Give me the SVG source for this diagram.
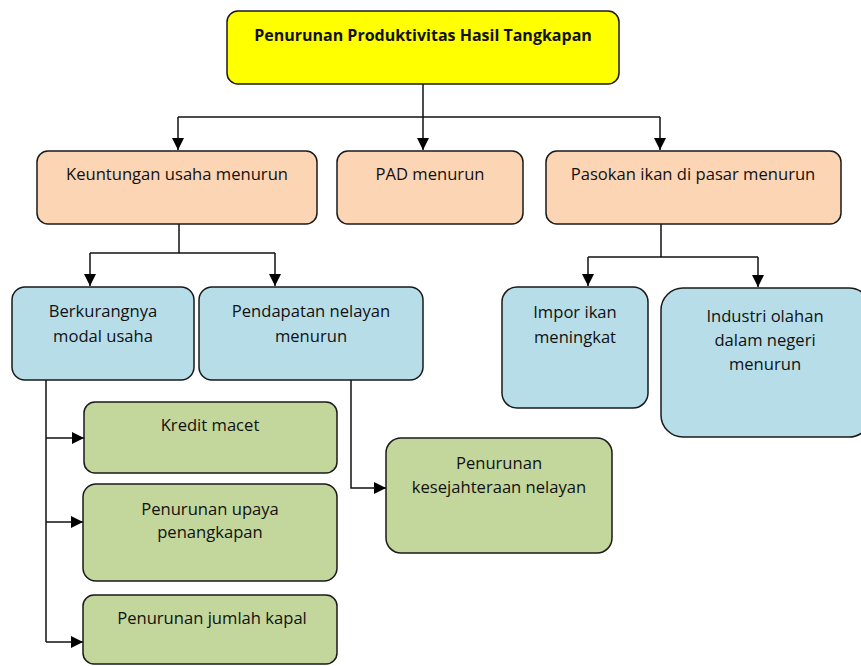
<svg xmlns="http://www.w3.org/2000/svg" width="861" height="666" viewBox="0 0 861 666">
<defs>
<marker id="ah" markerUnits="userSpaceOnUse" markerWidth="12" markerHeight="12" viewBox="0 0 10 10" refX="10" refY="5" orient="auto">
<path d="M0,0 L10,5 L0,10 z" fill="#000"/>
</marker>
<style>
.box{stroke:#1a1a1a;stroke-width:1.5}
.y{fill:#FFFF00}.o{fill:#FCD5B5}.b{fill:#B7DEE8}.g{fill:#C3D69B}
text{font-family:"Open Sans","Noto Sans","Liberation Sans",sans-serif;font-size:16.6px;fill:#111;text-anchor:middle}
.t{font-weight:bold;font-size:16px}
.c{fill:none;stroke:#111;stroke-width:1.5}
</style>
</defs>
<g id="connectors">
<path class="c" d="M423,84 V117"/>
<path class="c" d="M178,117 H660"/>
<path class="c" d="M178,117 V150" marker-end="url(#ah)"/>
<path class="c" d="M423,117 V150" marker-end="url(#ah)"/>
<path class="c" d="M660,117 V150" marker-end="url(#ah)"/>
<path class="c" d="M179,224 V253"/>
<path class="c" d="M90,253 H275"/>
<path class="c" d="M90,253 V286" marker-end="url(#ah)"/>
<path class="c" d="M275,253 V286" marker-end="url(#ah)"/>
<path class="c" d="M661,224 V257"/>
<path class="c" d="M588,257 H758"/>
<path class="c" d="M588,257 V286" marker-end="url(#ah)"/>
<path class="c" d="M758,257 V287" marker-end="url(#ah)"/>
<path class="c" d="M46,380 V642"/>
<path class="c" d="M46,438 H84" marker-end="url(#ah)"/>
<path class="c" d="M46,522 H83" marker-end="url(#ah)"/>
<path class="c" d="M46,642 H83" marker-end="url(#ah)"/>
<path class="c" d="M351,380 V488 H386" marker-end="url(#ah)"/>
</g>
<g id="n-top"><rect class="box y" x="227" y="11" width="392" height="73" rx="11"/><text class="t" x="423" y="41">Penurunan Produktivitas Hasil Tangkapan</text></g>
<g id="n-keuntungan"><rect class="box o" x="37" y="151" width="280" height="73" rx="11"/><text x="177" y="180">Keuntungan usaha menurun</text></g>
<g id="n-pad"><rect class="box o" x="337" y="151" width="186" height="73" rx="11"/><text x="430" y="180">PAD menurun</text></g>
<g id="n-pasokan"><rect class="box o" x="546" y="151" width="295" height="73" rx="11"/><text x="693" y="180">Pasokan ikan di pasar menurun</text></g>
<g id="n-berkurang"><rect class="box b" x="12" y="287" width="182" height="93" rx="13"/><text x="103" y="317">Berkurangnya</text><text x="103" y="342">modal usaha</text></g>
<g id="n-pendapatan"><rect class="box b" x="199" y="287" width="224" height="93" rx="13"/><text x="311" y="317">Pendapatan nelayan</text><text x="311" y="342">menurun</text></g>
<g id="n-impor"><rect class="box b" x="502" y="287" width="146" height="121" rx="15"/><text x="575" y="318">Impor ikan</text><text x="575" y="343">meningkat</text></g>
<g id="n-industri"><rect class="box b" x="661" y="288" width="210" height="149" rx="22"/><text x="765" y="322">Industri olahan</text><text x="765" y="346">dalam negeri</text><text x="765" y="370">menurun</text></g>
<g id="n-kredit"><rect class="box g" x="84" y="402" width="253" height="71" rx="11"/><text x="210" y="431">Kredit macet</text></g>
<g id="n-upaya"><rect class="box g" x="83" y="484" width="254" height="97" rx="13"/><text x="210" y="515">Penurunan upaya</text><text x="210" y="538">penangkapan</text></g>
<g id="n-kapal"><rect class="box g" x="83" y="595" width="254" height="69" rx="11"/><text x="212" y="624">Penurunan jumlah kapal</text></g>
<g id="n-kesejahteraan"><rect class="box g" x="386" y="438" width="226" height="115" rx="15"/><text x="499" y="469">Penurunan</text><text x="499" y="493">kesejahteraan nelayan</text></g>
</svg>
